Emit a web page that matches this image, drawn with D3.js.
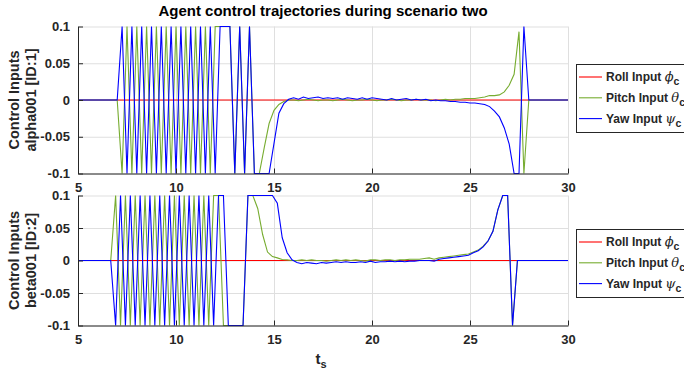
<!DOCTYPE html>
<html>
<head>
<meta charset="utf-8">
<script src="https://cdn.jsdelivr.net/npm/d3@7"></script>
<style>
  body { margin: 0; background: #fff; }
  svg { display: block; }
  text { font-family: "Liberation Sans", Arial, sans-serif; font-weight: bold; fill: #262626; }
</style>
</head>
<body>
<svg id="chart" width="684" height="374"></svg>
<script>
// ---- sample times and control inputs, agent alpha001 (ID 1) ----
const timesAlpha = [5,
  6.5, 6.75,
  7, 7.25, 7.5, 7.75,   8, 8.25, 8.5, 8.75,   9, 9.25, 9.5, 9.75,
  10, 10.25, 10.5, 10.75, 11, 11.25, 11.5, 11.75, 12, 12.25, 12.5, 12.75,
  13, 13.25, 13.5, 13.75, 14, 14.25, 14.5, 14.75, 15, 15.25, 15.5, 15.75,
  16, 16.25, 16.5, 16.75, 17, 17.25, 17.5, 17.75, 18, 18.25, 18.5, 18.75,
  19, 19.25, 19.5, 19.75, 20, 20.25, 20.5, 20.75, 21, 21.25, 21.5, 21.75,
  22, 22.25, 22.5, 22.75, 23, 23.25, 23.5, 23.75, 24, 24.25, 24.5, 24.75,
  25, 25.25, 25.5, 25.75, 26, 26.25, 26.5, 26.75, 27, 27.25, 27.5, 27.75,
  28, 28.25, 28.5,
  30];
const pitchAlpha = [0,
  0, 0,
  0, -0.1, 0.1, -0.1,   0.1, -0.1, 0.1, -0.1,   0.1, -0.1, 0.1, -0.1,
  0.1, -0.1, 0.1, -0.1,   0.1, -0.1, 0.1, -0.1,   0.1, 0.1, 0.1, 0.1,
  -0.1, 0.1, -0.1, 0.1,   -0.1, -0.1, -0.065, -0.032,   -0.014, -0.006, -0.002, 0,
  0, -0.001, 0, 0.001,   0, -0.001, 0, 0,   -0.001, 0, 0.001, 0,
  -0.001, 0, 0, 0.001,   0, -0.001, 0, 0,   0.001, 0, -0.001, 0,
  0, 0.001, 0, 0,   0, -0.001, 0, 0.001,   0, 0.001, 0.001, 0.002,
  0.002, 0.002, 0.003, 0.004,   0.006, 0.006, 0.007, 0.011,   0.02, 0.035, 0.093, -0.1,
  0, 0, 0,
  0];
const yawAlpha = [0,
  0, 0,
  0, 0.1, -0.1, 0.1,   -0.1, 0.1, -0.1, 0.1,   -0.1, 0.1, -0.1, 0.1,
  -0.1, 0.1, -0.1, 0.1,   -0.1, 0.1, -0.1, 0.1,   -0.1, 0.1, 0.1, 0.1,
  -0.1, 0.1, -0.1, 0.1,   -0.1, -0.1, -0.1, -0.1,   -0.059, -0.018, -0.005, 0.001,
  0.003, 0.001, 0.004, 0.002,   0.003, 0.004, 0.002, 0.003,   0.002, 0.003, 0.001, 0.003,
  0.002, 0.001, 0.003, 0.001,   0.003, 0.002, 0.001, 0,   0.002, 0, 0.001, 0.002,
  0, 0.001, 0, 0.001,   -0.001, 0, -0.001, -0.001,   -0.002, -0.002, -0.003, -0.003,
  -0.004, -0.004, -0.005, -0.006,   -0.009, -0.015, -0.023, -0.038,   -0.06, -0.1, -0.1, 0.1,
  0, 0, 0,
  0];

// ---- sample times and control inputs, agent beta001 (ID 2) ----
const timesBeta = [5,
  6.42, 6.67, 6.92,
  7.17, 7.42, 7.67, 7.92,   8.17, 8.42, 8.67, 8.92,   9.17, 9.42, 9.67, 9.92,
  10.17, 10.42, 10.67, 10.92,   11.17, 11.42, 11.67, 11.92,   12.17, 12.42, 12.67, 12.92,
  13.17, 13.42, 13.67, 13.92,   14.17, 14.42, 14.67, 14.92,   15.17, 15.42, 15.67, 15.92,
  16.17, 16.42, 16.67, 16.92,   17.17, 17.42, 17.67, 17.92,   18.17, 18.42, 18.67, 18.92,
  19.17, 19.42, 19.67, 19.92,   20.17, 20.42, 20.67, 20.92,   21.17, 21.42, 21.67, 21.92,
  22.17, 22.42, 22.67, 22.92,   23.17, 23.42, 23.67, 23.92,   24.17, 24.42, 24.67, 24.92,
  25.17, 25.42, 25.67, 25.92,   26.17, 26.42, 26.67, 26.92,   27.17, 27.42, 27.67, 27.92,
  28.17, 28.42,
  30];
const pitchBeta = [0,
  0, 0, 0.1,
  -0.1, 0.1, -0.1, 0.1,   -0.1, 0.1, -0.1, 0.1,   -0.1, 0.1, -0.1, 0.1,
  -0.1, 0.1, -0.1, 0.1,   -0.1, 0.1, -0.1, 0.1,   0.1, -0.1, -0.1, -0.1,
  -0.1, -0.1, 0.1, 0.1,   0.08, 0.04, 0.013, 0.006,   0.004, 0.0015, 0.001, 0,
  0, 0.001, 0, 0.001,   0, 0, -0.001, 0,   0.001, 0, 0.001, 0,
  0.001, 0, -0.001, 0.001,   0.001, 0, 0.001, 0.001,   0, 0.001, 0.001, 0.002,
  0.002, 0.002, 0.003, 0.004,   0.002, 0.004, 0.005, 0.006,   0.007, 0.008, 0.009, 0.01,
  0.013, 0.016, 0.022, 0.03,   0.045, 0.078, 0.1, 0.1,   -0.1, 0, 0, 0,
  0, 0,
  0];
const yawBeta = [0,
  0, 0, -0.1,
  0.1, -0.1, 0.1, -0.1,   0.1, -0.1, 0.1, -0.1,   0.1, -0.1, 0.1, -0.1,
  0.1, -0.1, 0.1, -0.1,   0.1, -0.1, 0.1, -0.1,   0.1, 0.1, -0.1, -0.1,
  -0.1, -0.1, 0.1, 0.1,   0.1, 0.1, 0.1, 0.1,   0.088, 0.035, 0.012, 0.001,
  -0.003, -0.005, -0.003, -0.004,   -0.005, -0.003, -0.004, -0.003,   -0.002, -0.003, -0.002, -0.003,
  -0.003, -0.002, -0.003, -0.001,   -0.003, -0.002, -0.002, -0.001,   -0.002, -0.001, -0.002, -0.001,
  -0.001, 0, 0, 0,   -0.001, 0.002, 0.003, 0.004,   0.005, 0.006, 0.007, 0.008,
  0.012, 0.015, 0.021, 0.03,   0.045, 0.078, 0.1, 0.1,   -0.1, 0, 0, 0,
  0, 0,
  0];

// roll input stays at zero for both agents
const rollTimes = [5, 30];
const rollAlpha = [0, 0];
const rollBeta = [0, 0];

// ---- axes ticks and labels ----
const xTicks = [5, 10, 15, 20, 25, 30];
const yTicks = [-0.1, -0.05, 0, 0.05, 0.1];
const yTickLabels = ["-0.1", "-0.05", "0", "0.05", "0.1"];
const legendNames = ["Roll Input ", "Pitch Input ", "Yaw Input "];
const legendSymbols = ["\u03D5", "\u03B8", "\u03C8"];
const seriesColors = ["#ff0000", "#77ac30", "#0000ff"];

const svg = d3.select("#chart");
const left = 78, right = 568;
const x = d3.scaleLinear().domain([5, 30]).range([left, right]);

svg.append("text")
  .attr("x", (left + right) / 2).attr("y", 15.5)
  .attr("text-anchor", "middle")
  .style("font-size", "15px").style("fill", "#000")
  .text("Agent control trajectories during scenario two");

function zip(ts, vs) { return ts.map((t, i) => ({ t: t, v: vs[i] })); }

function drawPanel(top, bottom, agentLabel, series, legendTop) {
  const y = d3.scaleLinear().domain([-0.1, 0.1]).range([bottom, top]);
  const g = svg.append("g");

  g.append("rect").attr("x", left).attr("y", top)
    .attr("width", right - left).attr("height", bottom - top).attr("fill", "#fff");

  // grid
  g.append("g").attr("transform", `translate(0,${bottom})`)
    .call(d3.axisBottom(x).tickValues(xTicks).tickSize(-(bottom - top)).tickFormat(""))
    .call(s => s.select(".domain").remove())
    .call(s => s.selectAll("line").attr("stroke", "#dfdfdf"));
  g.append("g").attr("transform", `translate(${left},0)`)
    .call(d3.axisLeft(y).tickValues(yTicks).tickSize(-(right - left)).tickFormat(""))
    .call(s => s.select(".domain").remove())
    .call(s => s.selectAll("line").attr("stroke", "#dfdfdf"));

  // data
  const line = d3.line().x(d => x(d.t)).y(d => y(d.v));
  series.forEach((s, i) => {
    g.append("path").datum(zip(s.times, s.values))
      .attr("fill", "none").attr("stroke", seriesColors[i])
      .attr("stroke-width", 1.1).attr("stroke-linejoin", "miter")
      .attr("d", line);
  });

  // axes
  const xa = g.append("g").attr("transform", `translate(0,${bottom})`)
    .call(d3.axisBottom(x).tickValues(xTicks).tickSize(-5).tickSizeOuter(0).tickPadding(9));
  const ya = g.append("g").attr("transform", `translate(${left},0)`)
    .call(d3.axisLeft(y).tickValues(yTicks).tickSize(-5).tickSizeOuter(0).tickPadding(8)
      .tickFormat((d, i) => yTickLabels[i]));
  [xa, ya].forEach(a => {
    a.selectAll("path, line").attr("stroke", "#262626");
    a.selectAll("text").attr("font-family", null).attr("font-size", null)
      .style("font-size", "13px").style("fill", "#262626");
  });

  // y label, two lines
  const cy = (top + bottom) / 2;
  const yl = g.append("text")
    .attr("transform", `translate(18.5,${cy}) rotate(-90)`)
    .attr("text-anchor", "middle").style("font-size", "14.5px");
  yl.append("tspan").attr("x", 0).attr("y", 0).text("Control Inputs");
  yl.append("tspan").attr("x", 0).attr("y", 17.5).text(agentLabel);

  // legend
  const lg = g.append("g");
  lg.append("rect").attr("x", 576.5).attr("y", legendTop).attr("width", 140).attr("height", 68)
    .attr("fill", "#fff").attr("stroke", "#262626").attr("stroke-width", 1);
  legendNames.forEach((name, i) => {
    const ry = legendTop + 12.5 + i * 20.8;
    lg.append("line").attr("x1", 579).attr("x2", 602).attr("y1", ry).attr("y2", ry)
      .attr("stroke", seriesColors[i]).attr("stroke-width", 1.1);
    const t = lg.append("text").attr("x", 606).attr("y", ry + 4.3).style("font-size", "12px");
    t.append("tspan").text(name);
    t.append("tspan").style("font-family", "'DejaVu Serif', serif").style("font-style", "italic")
      .style("font-weight", "normal").style("font-size", "13px").text(legendSymbols[i]);
    t.append("tspan").attr("dy", 4).style("font-size", "10.5px").text("c");
  });
}

drawPanel(26.5, 173.5, "alpha001 [ID:1]", [
  { times: rollTimes, values: rollAlpha },
  { times: timesAlpha, values: pitchAlpha },
  { times: timesAlpha, values: yawAlpha }
], 64.5);

drawPanel(195.5, 325.5, "beta001 [ID:2]", [
  { times: rollTimes, values: rollBeta },
  { times: timesBeta, values: pitchBeta },
  { times: timesBeta, values: yawBeta }
], 229.5);

// x axis label t_s
const xl = svg.append("text").attr("x", (left + right) / 2 - 2).attr("y", 364)
  .attr("text-anchor", "middle").style("font-size", "15px");
xl.append("tspan").text("t");
xl.append("tspan").attr("dy", 4).style("font-size", "11px").text("s");
</script>
</body>
</html>
